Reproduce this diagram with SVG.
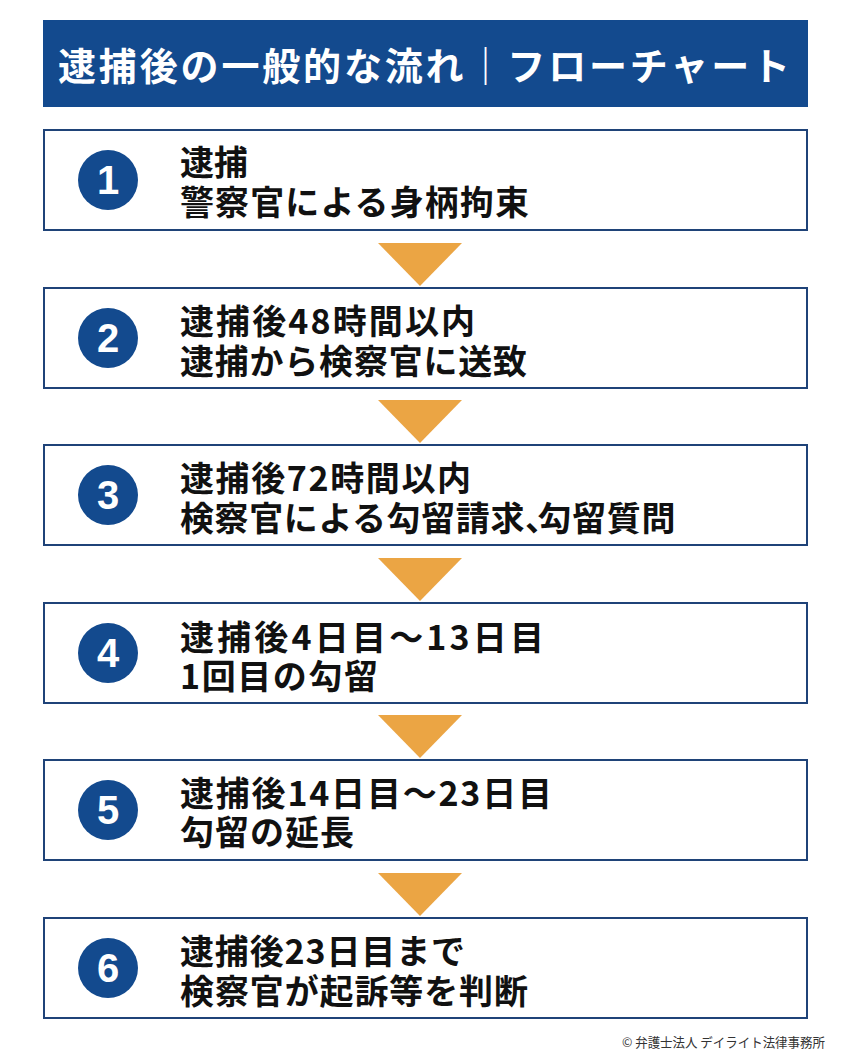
<svg xmlns="http://www.w3.org/2000/svg" width="850" height="1063" viewBox="0 0 850 1063">
<style>
.box{fill:#fff;stroke:#1f4378;stroke-width:2}
.circ{fill:#134a8e}
.num{font-family:"Liberation Sans","Noto Sans",sans-serif;font-weight:bold;font-size:40px;fill:#fff;text-anchor:middle}
.txt{font-family:"Noto Sans CJK JP",sans-serif;font-weight:bold;font-size:34px;fill:#111}
.arrow{fill:#eba544}
.title{font-family:"Noto Sans CJK JP",sans-serif;font-weight:bold;font-size:38px;fill:#fff}
.copy{font-family:"Noto Sans CJK JP",sans-serif;font-size:13px;fill:#333}
</style>
<rect width="850" height="1063" fill="#fff"/>
<g id="header">
<rect x="43" y="20" width="765" height="87" fill="#134a8e"/>
<text class="title" x="58" y="80" textLength="732" lengthAdjust="spacing">逮捕後の一般的な流れ｜フローチャート</text>
</g>
<g id="connectors">
<polygon class="arrow" points="378,243 462,243 420,286"/>
<polygon class="arrow" points="378,400 462,400 420,443"/>
<polygon class="arrow" points="378,558 462,558 420,601"/>
<polygon class="arrow" points="378,715 462,715 420,758"/>
<polygon class="arrow" points="378,873 462,873 420,916"/>
</g>
<g id="step1">
<rect class="box" x="44" y="130" width="763" height="100"/>
<circle class="circ" cx="108" cy="180" r="30"/>
<text class="num" x="108" y="194">1</text>
<text class="txt" x="180" y="175">逮捕</text>
<text class="txt" x="180" y="215" textLength="349" lengthAdjust="spacing">警察官による身柄拘束</text>
</g>
<g id="step2">
<rect class="box" x="44" y="288" width="763" height="100"/>
<circle class="circ" cx="108" cy="338" r="30"/>
<text class="num" x="108" y="352">2</text>
<text class="txt" x="180" y="334" textLength="295" lengthAdjust="spacing">逮捕後48時間以内</text>
<text class="txt" x="180" y="374" textLength="347" lengthAdjust="spacing">逮捕から検察官に送致</text>
</g>
<g id="step3">
<rect class="box" x="44" y="445" width="763" height="100"/>
<circle class="circ" cx="108" cy="495" r="30"/>
<text class="num" x="108" y="509">3</text>
<text class="txt" x="180" y="491" textLength="291" lengthAdjust="spacing">逮捕後72時間以内</text>
<text class="txt" x="180" y="531" letter-spacing="0.6">検察官による勾留請求、<tspan dx="-22">勾留質問</tspan></text>
</g>
<g id="step4">
<rect class="box" x="44" y="603" width="763" height="100"/>
<circle class="circ" cx="108" cy="653" r="30"/>
<text class="num" x="108" y="667">4</text>
<text class="txt" x="180" y="650" textLength="364" lengthAdjust="spacing">逮捕後4日目～13日目</text>
<text class="txt" x="180" y="689" textLength="198" lengthAdjust="spacing">1回目の勾留</text>
</g>
<g id="step5">
<rect class="box" x="44" y="760" width="763" height="100"/>
<circle class="circ" cx="108" cy="810" r="30"/>
<text class="num" x="108" y="824">5</text>
<text class="txt" x="180" y="806" textLength="372" lengthAdjust="spacing">逮捕後14日目～23日目</text>
<text class="txt" x="180" y="845" textLength="174" lengthAdjust="spacing">勾留の延長</text>
</g>
<g id="step6">
<rect class="box" x="44" y="918" width="763" height="100"/>
<circle class="circ" cx="108" cy="968" r="30"/>
<text class="num" x="108" y="982">6</text>
<text class="txt" x="180" y="964" textLength="285" lengthAdjust="spacing">逮捕後23日目まで</text>
<text class="txt" x="180" y="1004" textLength="348" lengthAdjust="spacing">検察官が起訴等を判断</text>
</g>
<text class="copy" x="622" y="1047" textLength="203" lengthAdjust="spacingAndGlyphs">© 弁護士法人 デイライト法律事務所</text>
</svg>
